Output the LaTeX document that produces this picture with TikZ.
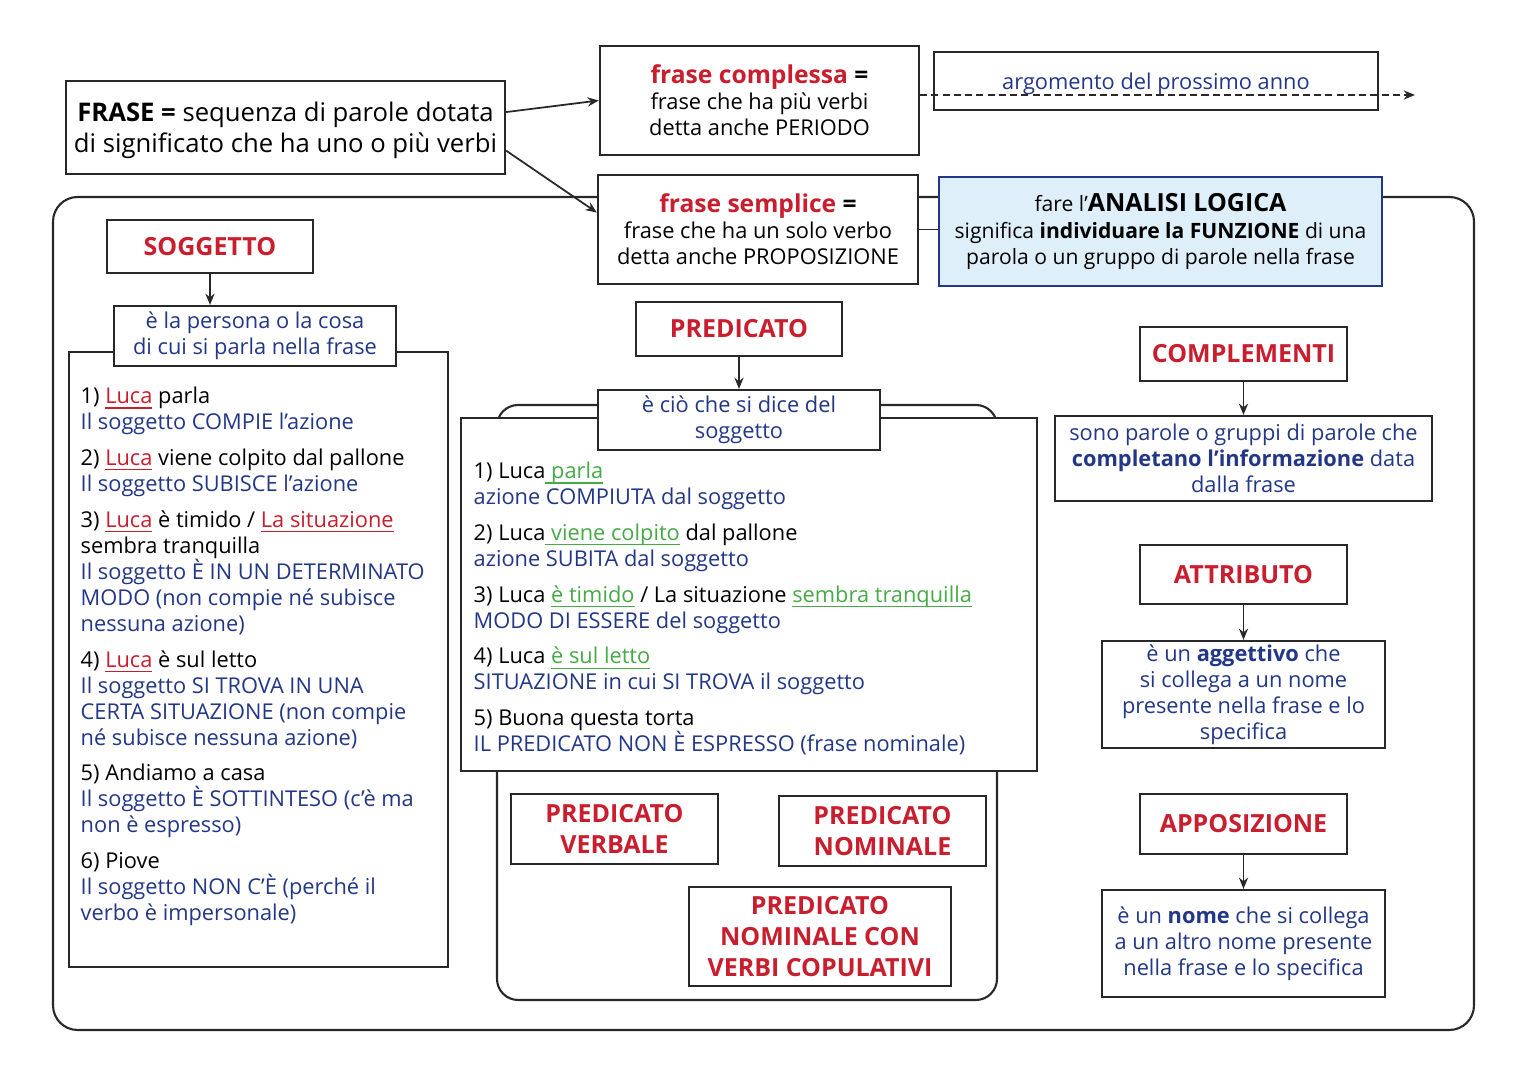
\documentclass[tikz,border=0pt]{standalone}
\usepackage{fontspec}
\setmainfont{Open Sans}
\usetikzlibrary{arrows.meta}
\definecolor{mapred}{RGB}{200,30,45}
\definecolor{mapblue}{RGB}{35,55,135}
\definecolor{mapgreen}{RGB}{70,170,70}
\definecolor{mapsky}{RGB}{222,239,250}
\definecolor{mapframe}{RGB}{40,40,40}
\newcommand\sottolinea[1]{\setbox0\hbox{#1}\rlap{\rule[-1.5pt]{\wd0}{0.4pt}}\box0}
\def\sog#1{\textcolor{mapred}{\sottolinea{#1}}}
\def\verbo#1{\textcolor{mapgreen}{\sottolinea{#1}}}
\def\spiega#1{\textcolor{mapblue}{#1}}
\tikzset{
	box/.style={draw=mapframe, line width=0.6pt, fill=white, inner sep=0pt, align=center},
	title/.style={box, text=mapred, font=\bfseries\fontsize{7.1}{8.8}\selectfont},
	body/.style={font=\fontsize{6.2}{7.4}\selectfont},
	link/.style={-{Stealth[length=3.2pt,width=2.6pt]}, line width=0.5pt, draw=mapframe},
}

\begin{document}
\begin{tikzpicture}[x=0.01cm, y=-0.01cm]
			%%%%% START %%%%%
			\useasboundingbox (0,0) rectangle (1526,1080);
			
			\draw[mapframe, line width=0.6pt, rounded corners=7pt] (53,197) rectangle (1474,1030);
			
			% top row
			\node[box, font=\fontsize{7.3}{8.8}\selectfont, text depth=0pt, minimum width=4.39cm, minimum height=0.93cm] (frase) at (285.5,127.5)
				{\textbf{FRASE =} sequenza di parole dotata\\di significato che ha uno o più verbi};
			\node[box, body, minimum width=3.19cm, minimum height=1.09cm] (complessa) at (759.5,100.5)
				{{\bfseries\fontsize{7}{8}\selectfont\textcolor{mapred}{frase complessa} =}\\frase che ha più verbi\\detta anche PERIODO};
			\node[box, body, fill=none, text=mapblue, text depth=0pt, minimum width=4.44cm, minimum height=0.58cm] (argomento) at (1156,81)
				{argomento del prossimo anno};
			\node[box, body, minimum width=3.20cm, minimum height=1.09cm] (semplice) at (758,229.5)
				{{\bfseries\fontsize{7}{8}\selectfont\textcolor{mapred}{frase semplice} =}\\frase che ha un solo verbo\\detta anche PROPOSIZIONE};
			\node[box, font=\fontsize{6}{7.4}\selectfont, draw=mapblue, fill=mapsky, minimum width=4.43cm, minimum height=1.09cm] (logica) at (1160.5,231.5)
				{fare l’{\bfseries\fontsize{7.1}{8}\selectfont ANALISI LOGICA}\\significa \textbf{individuare la FUNZIONE} di una\\parola o un gruppo di parole nella frase};
			
			\coordinate (futuro) at (1415,95);
			\draw[link, dash pattern=on 2pt off 1.2pt] (complessa.east |- futuro) -- (futuro);
			\draw[link] (frase.4) -- (complessa.west);
			\draw[link] (frase.-6) -- (semplice.174);
			\draw[line width=0.5pt, mapframe] (semplice.east) -- (semplice.east -| logica.west);
			
			% soggetto
			\node[box, minimum width=3.79cm, minimum height=6.15cm] (soggframe) at (258.5,659.5) {};
			\node[title, minimum width=2.06cm, minimum height=0.53cm] (sogg) at (210,246.5) {SOGGETTO};
			\node[box, body, text=mapblue, minimum width=2.82cm, minimum height=0.60cm] (persona) at (255,336)
				{è la persona o la cosa\\di cui si parla nella frase};
			\draw[link] (sogg.south) -- (sogg.south |- persona.north);
			\node[body, anchor=north west, inner sep=0pt, align=left] (sogglist) at (80,386) {
				1) \sog{Luca} parla\\
				\spiega{Il soggetto COMPIE l’azione}\\[2.8pt]
				2) \sog{Luca} viene colpito dal pallone\\
				\spiega{Il soggetto SUBISCE l’azione}\\[2.8pt]
				3) \sog{Luca} è timido / \sog{La situazione}\\
				sembra tranquilla\\
				\spiega{Il soggetto È IN UN DETERMINATO}\\
				\spiega{MODO (non compie né subisce}\\
				\spiega{nessuna azione)}\\[2.8pt]
				4) \sog{Luca} è sul letto\\
				\spiega{Il soggetto SI TROVA IN UNA}\\
				\spiega{CERTA SITUAZIONE (non compie}\\
				\spiega{né subisce nessuna azione)}\\[2.8pt]
				5) Andiamo a casa\\
				\spiega{Il soggetto È SOTTINTESO (c’è ma}\\
				\spiega{non è espresso)}\\[2.8pt]
				6) Piove\\
				\spiega{Il soggetto NON C’È (perché il}\\
				\spiega{verbo è impersonale)}};
			
			% predicato
			\draw[mapframe, line width=0.6pt, rounded corners=6pt] (497,405) rectangle (997,1000);
			\node[box, minimum width=5.76cm, minimum height=3.53cm] (predframe) at (749,594.5) {};
			\node[title, minimum width=2.06cm, minimum height=0.54cm] (pred) at (739,329) {PREDICATO};
			\node[box, body, text=mapblue, minimum width=2.82cm, minimum height=0.60cm] (cio) at (739,420)
				{è ciò che si dice del\\soggetto};
			\draw[link] (pred) -- (cio);
			\node[body, anchor=north west, inner sep=0pt, align=left] (predlist) at (473,461) {
				1) Luca\verbo{\ parla}\\
				\spiega{azione COMPIUTA dal soggetto}\\[2.8pt]
				2) Luca\verbo{\ viene colpito} dal pallone\\
				\spiega{azione SUBITA dal soggetto}\\[2.8pt]
				3) Luca \verbo{è timido} / La situazione \verbo{sembra tranquilla}\\
				\spiega{MODO DI ESSERE del soggetto}\\[2.8pt]
				4) Luca \verbo{è sul letto}\\
				\spiega{SITUAZIONE in cui SI TROVA il soggetto}\\[2.8pt]
				5) Buona questa torta\\
				\spiega{IL PREDICATO NON È ESPRESSO (frase nominale)}};
			\node[title, minimum width=2.07cm, minimum height=0.70cm] (verbale) at (614.5,829) {PREDICATO\\VERBALE};
			\node[title, minimum width=2.07cm, minimum height=0.70cm] (nominale) at (882.5,831) {PREDICATO\\NOMINALE};
			\node[title, minimum width=2.62cm, minimum height=0.99cm] (copulativi) at (820,936.5)
				{PREDICATO\\NOMINALE CON\\VERBI COPULATIVI};
			
			% complementi
			\node[title, minimum width=2.07cm, minimum height=0.54cm] (compl) at (1243.5,354) {COMPLEMENTI};
			\node[box, body, text=mapblue, minimum width=3.77cm, minimum height=0.85cm] (parole) at (1243.5,458.5)
				{sono parole o gruppi di parole che\\\textbf{completano l’informazione} data\\dalla frase};
			\draw[link] (compl) -- (parole);
			
			\node[title, minimum width=2.07cm, minimum height=0.59cm] (attr) at (1243.5,574.5) {ATTRIBUTO};
			\node[box, body, text=mapblue, minimum width=2.83cm, minimum height=1.07cm] (aggettivo) at (1243.5,694.5)
				{è un \textbf{aggettivo} che\\si collega a un nome\\presente nella frase e lo\\specifica};
			\draw[link] (attr) -- (aggettivo);
			
			\node[title, minimum width=2.07cm, minimum height=0.60cm] (appos) at (1243.5,824) {APPOSIZIONE};
			\node[box, body, text=mapblue, minimum width=2.83cm, minimum height=1.07cm] (nome) at (1243.5,943.5)
				{è un \textbf{nome} che si collega\\a un altro nome presente\\nella frase e lo specifica};
			\draw[link] (appos) -- (nome);
			
			%%%%% END %%%%%
\end{tikzpicture}
\end{document}
